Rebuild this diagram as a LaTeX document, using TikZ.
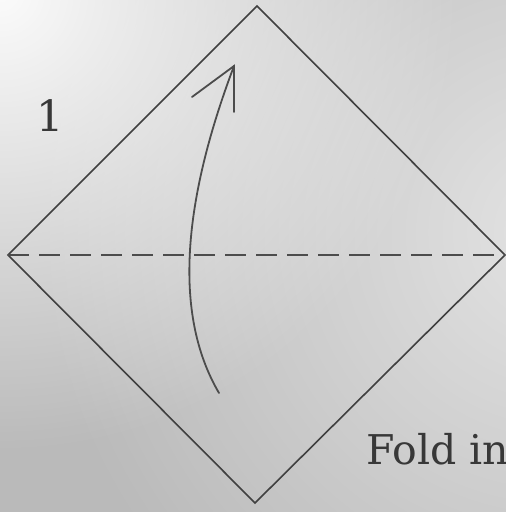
\documentclass[tikz,border=0pt]{standalone}
\usepackage{fontspec}
\usepackage{tikz}
\usetikzlibrary{calc,fadings}

\newfontfamily\bookfont{DejaVu Serif}

% soft light spots on the scanned page
\tikzfading[name=glowfade, inner color=transparent!0, outer color=transparent!100]

\tikzset{
  crease/.style={draw=black!70, line width=1.6pt, dash pattern=on 21pt off 10pt},
  paperedge/.style={draw=black!75, line width=1.6pt, line join=miter},
  foldarrow/.style={draw=black!70, line width=1.8pt, line cap=round},
  steplabel/.style={text=black!78, inner sep=0pt, font=\bookfont\fontsize{43}{48}\selectfont},
  notelabel/.style={text=black!78, inner sep=0pt, font=\bookfont\fontsize{41}{46}\selectfont}
}

\begin{document}
\begin{tikzpicture}[x=1pt, y=1pt]
    % --- Paper background (scanned page) ---
    \useasboundingbox (0,0) rectangle (506,512);
    \begin{scope}
      \clip (0,0) rectangle (506,512);
      \fill[black!27] (0,0) rectangle (506,512);
      \fill[white, path fading=glowfade, fill opacity=0.6] (560,280) circle (520);
      \fill[white, path fading=glowfade, fill opacity=0.95] (0,520) circle (460);
    \end{scope}

    % --- Square sheet, corner up ---
    \coordinate (top) at (257,506);
    \coordinate (left) at (8,257);
    \coordinate (right) at (505,257);
    \coordinate (bottom) at (255,9);
    \draw[paperedge] (top) -- (right) -- (bottom) -- (left) -- cycle;

    % --- Valley fold line ---
    \draw[crease] (left) -- (right);

    % --- Fold arrow (bottom corner up) ---
    \coordinate (from) at (219,119);
    \coordinate (tip) at (234,446);
    \coordinate (barbL) at (192,415);
    \coordinate (barbR) at (234,400);
    \draw[foldarrow] (from) .. controls (175,194) and (180,303) .. (tip);
    \draw[foldarrow, line join=miter] (barbL) -- (tip) -- (barbR);

    % --- Labels ---
    \node[steplabel, anchor=base] (stepno) at (50,380) {1};
    \node[notelabel, anchor=base west] (note) at (366,47) {Fold in};
\end{tikzpicture}
\end{document}
